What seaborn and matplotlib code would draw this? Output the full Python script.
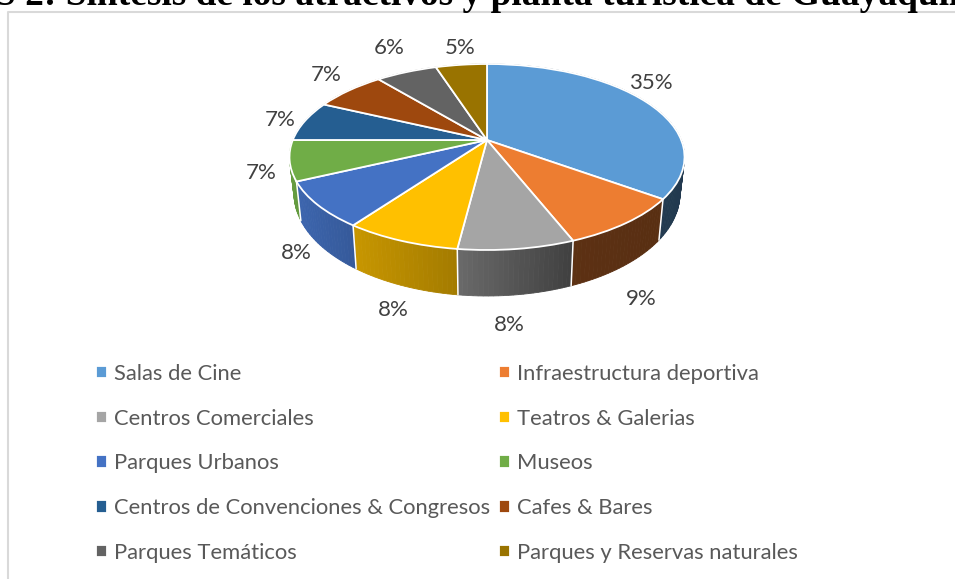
import numpy as np
import matplotlib
matplotlib.use("Agg")
import matplotlib.pyplot as plt
import matplotlib.transforms as mtransforms
import seaborn as sns

categories = ["Salas de Cine", "Infraestructura deportiva", "Centros Comerciales",
              "Teatros & Galerias", "Parques Urbanos", "Museos",
              "Centros de Convenciones & Congresos", "Cafes & Bares",
              "Parques Temáticos", "Parques y Reservas naturales"]
values = [35, 9, 8, 8, 8, 7, 7, 7, 6, 5]
colors = ["#5B9BD5", "#ED7D31", "#A5A5A5", "#FFC000", "#4472C4",
          "#70AD47", "#255E91", "#9E480E", "#636363", "#997300"]
title = "S 2: Síntesis de los atractivos y planta turística de Guayaquil"
label_xy = [(651, 83), (641, 299), (509, 325), (393, 310), (296, 253),
            (261, 173), (280, 120), (326, 75), (389, 48), (460, 48)]

# picture geometry: apex of the pie in pixels and perspective of the disc
APEX_X, APEX_Y = 487, 140
K, SX, SY = 0.1827, 194.2, 89.9


def project(x, y):
    w = 1 + K * y
    return SX * x / w, SY * y / w


class Perspective(mtransforms.Transform):
    input_dims = 2
    output_dims = 2

    def transform_non_affine(self, v):
        v = np.asarray(v, float)
        return np.column_stack(project(v[:, 0], v[:, 1]))


sns.set_theme(style="white")
plt.rcParams["font.family"] = ["Lato", "DejaVu Sans"]
palette = sns.color_palette(colors)

fig = plt.figure(figsize=(9.55, 5.79), dpi=100)
ax = fig.add_axes([0, 0, 1, 1])

wedges, _ = ax.pie(values, colors=palette, startangle=90, counterclock=False,
                   wedgeprops=dict(edgecolor="white", linewidth=1.3, zorder=5))
persp = Perspective()
for w in wedges:
    w.set_transform(persp + ax.transData)

ax.set_aspect("auto")
ax.set_xlim(-APEX_X, 955 - APEX_X)
ax.set_ylim(APEX_Y - 579, APEX_Y)
ax.axis("off")


def rim_points(theta):
    X, Y = project(np.sin(theta), np.cos(theta))
    return X, Y, 0.977 * X, 1.10 * Y - 35


# extruded side of the pie, built from the same values
edges = np.radians(np.concatenate([[0], np.cumsum(values)]) * 3.6)
for i, rgb in enumerate(palette):
    th = np.linspace(edges[i], edges[i + 1], max(6, values[i] * 3))
    for a, b in zip(th[:-1], th[1:]):
        x0, y0, x0b, y0b = rim_points(a)
        x1, y1, x1b, y1b = rim_points(b)
        shade = np.interp((x0 + x1) / 2 / 197.5,
                          [-1, -0.67, -0.15, 0.43, 1],
                          [0.90, 0.78, 0.64, 0.39, 0.37])
        c = tuple(np.array(rgb) * shade)
        ax.fill([x0, x1, x1b, x0b], [y0, y1, y1b, y0b], color=c, lw=0.6, zorder=2)
    x, y, xb, yb = rim_points(edges[i])
    if y < 0 or i == 0:
        ax.plot([x, xb], [y, yb], color="white", lw=1.1, zorder=3)

# value labels
for v, (px, py) in zip(values, label_xy):
    ax.text(px - APEX_X, APEX_Y - py, f"{v}%", ha="center", va="center",
            fontsize=16, color="#404040", zorder=6)

# legend filled row by row, as in the reference
order = list(range(0, 10, 2)) + list(range(1, 10, 2))
leg = ax.legend([wedges[i] for i in order], [categories[i] for i in order],
                ncol=2, loc="upper left", bbox_to_anchor=(96 / 955, 1 - 364 / 579),
                frameon=False, fontsize=15.8, labelcolor="#595959",
                handlelength=0.5, handleheight=0.5, handletextpad=0.3,
                labelspacing=1.125, columnspacing=0.43, borderpad=0, borderaxespad=0)

# chart frame and clipped caption above it
ax.plot([8 - APEX_X, 8 - APEX_X, 955 - APEX_X], [APEX_Y - 579, APEX_Y - 12, APEX_Y - 12],
        color="#d9d9d9", lw=1.5, clip_on=True, zorder=1)
fig.text(-5 / 955, 1 - 5 / 579, title, family="Liberation Serif", weight="bold",
         fontsize=26.9, color="black", ha="left", va="baseline")

fig.savefig("out.png", dpi=100, facecolor="white")
